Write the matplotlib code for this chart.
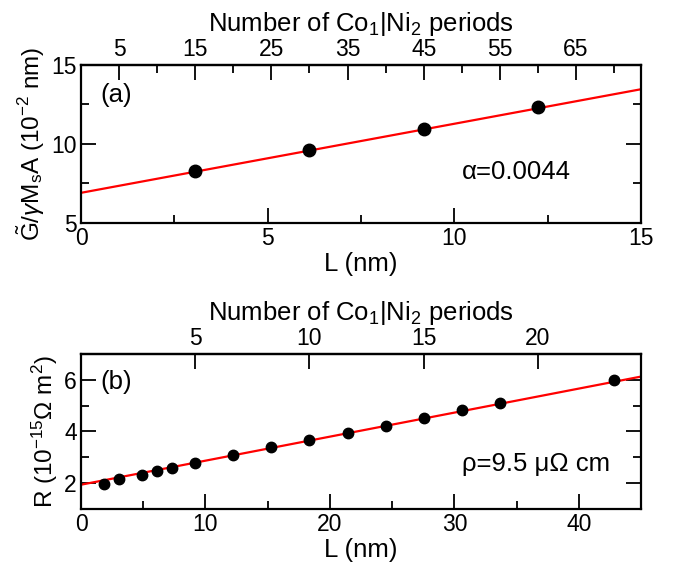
import matplotlib
matplotlib.use("Agg")
import matplotlib.pyplot as plt
import numpy as np
from matplotlib.ticker import MultipleLocator

plt.rcParams["font.family"] = ["Liberation Sans", "DejaVu Sans"]
plt.rcParams["mathtext.fontset"] = "custom"
plt.rcParams["mathtext.rm"] = "Liberation Sans"
plt.rcParams["mathtext.it"] = "Liberation Sans:italic"
plt.rcParams["mathtext.sf"] = "Liberation Sans"

# panel (a): damping data
a_L = [3.06, 6.12, 9.18, 12.24]
a_G = [8.26, 9.62, 10.95, 12.33]
a_fit = (6.91, 0.437)          # intercept, slope
a_period = 0.204               # nm per Co1|Ni2 period (top axis)

# panel (b): resistance data
b_L = [1.84, 3.06, 4.90, 6.12, 7.34, 9.18, 12.24, 15.30, 18.36, 21.42,
       24.48, 27.54, 30.60, 33.66, 42.84]
b_R = [1.97, 2.15, 2.32, 2.46, 2.59, 2.78, 3.08, 3.39, 3.67, 3.96,
       4.23, 4.54, 4.82, 5.11, 5.98]
b_fit = (1.94, 0.093)
b_period = 1.836

FS_TICK = 16.5
FS_LAB = 18.5
LW = 1.6

fig = plt.figure(figsize=(6.82, 5.68), dpi=100)


def style(ax):
    for s in ax.spines.values():
        s.set_linewidth(LW)
    ax.tick_params(which="both", direction="in", top=False, right=True,
                   width=1.3, labelsize=FS_TICK, pad=3)
    ax.tick_params(which="major", length=11)
    ax.tick_params(which="minor", length=6)


def top_axis(ax, period, major, minor):
    sec = ax.secondary_xaxis("top", functions=(lambda x: x / period,
                                               lambda n: n * period))
    sec.set_xticks(major)
    sec.set_xticks(minor, minor=True)
    sec.tick_params(which="both", direction="in", width=1.3,
                    labelsize=FS_TICK, pad=3)
    sec.tick_params(which="major", length=11)
    sec.tick_params(which="minor", length=6)
    sec.spines["top"].set_linewidth(LW)
    sec.set_xlabel("Number of Co$_1$|Ni$_2$ periods", fontsize=FS_LAB, labelpad=5)
    return sec


# ---- (a)
ax1 = fig.add_axes([0.1188, 0.6074, 0.8211, 0.2782])
style(ax1)
xx = np.array([0, 15])
ax1.plot(xx, a_fit[0] + a_fit[1] * xx, color="#ff0000", lw=1.6, zorder=2)
ax1.plot(a_L, a_G, "o", color="black", ms=9, zorder=3)
ax1.set_xlim(0, 15)
ax1.set_ylim(5, 15)
ax1.xaxis.set_major_locator(MultipleLocator(5))
ax1.xaxis.set_minor_locator(MultipleLocator(2.5))
ax1.yaxis.set_major_locator(MultipleLocator(5))
ax1.yaxis.set_minor_locator(MultipleLocator(2.5))
ax1.set_xlabel("L (nm)", fontsize=FS_LAB, labelpad=1)
ax1.set_ylabel(r"$\tilde{\mathrm{G}}/\gamma\mathrm{M_sA}$ (10$^{-2}$ nm)",
               fontsize=17.5, labelpad=3)
ax1.text(0.035, 0.81, "(a)", transform=ax1.transAxes, fontsize=FS_LAB, va="center")
ax1.text(0.68, 0.32, "α=0.0044", transform=ax1.transAxes, fontsize=FS_LAB, va="center")
top_axis(ax1, a_period, np.arange(5, 70, 10), np.arange(10, 80, 10))

# ---- (b)
ax2 = fig.add_axes([0.1188, 0.1039, 0.8211, 0.2729])
style(ax2)
xx = np.array([0, 45])
ax2.plot(xx, b_fit[0] + b_fit[1] * xx, color="#ff0000", lw=1.6, zorder=2)
ax2.plot(b_L, b_R, "o", color="black", ms=7.5, zorder=3)
ax2.set_xlim(0, 45)
ax2.set_ylim(1, 7)
ax2.xaxis.set_major_locator(MultipleLocator(10))
ax2.xaxis.set_minor_locator(MultipleLocator(5))
ax2.yaxis.set_major_locator(MultipleLocator(2))
ax2.yaxis.set_minor_locator(MultipleLocator(1))
ax2.set_xlabel("L (nm)", fontsize=FS_LAB, labelpad=1)
ax2.set_ylabel("R (10$^{-15}$Ω m$^2$)", fontsize=17.5, labelpad=3)
ax2.text(0.035, 0.82, "(b)", transform=ax2.transAxes, fontsize=FS_LAB, va="center")
ax2.text(0.68, 0.293, "ρ=9.5 μΩ cm", transform=ax2.transAxes, fontsize=FS_LAB, va="center")
top_axis(ax2, b_period, [5, 10, 15, 20], [])

fig.savefig("out.png", dpi=100)
